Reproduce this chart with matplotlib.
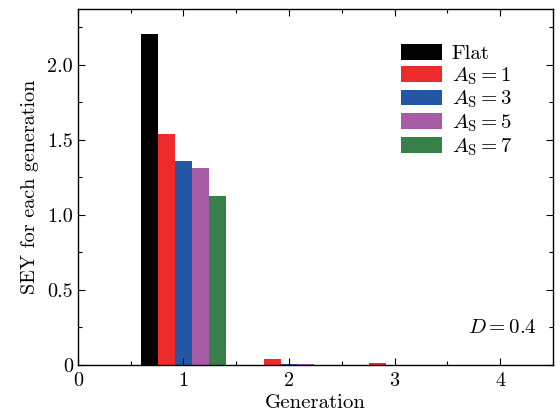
import matplotlib
matplotlib.use('Agg')
import matplotlib.pyplot as plt
import numpy as np
from matplotlib.ticker import MultipleLocator, FuncFormatter

plt.rcParams['font.family'] = 'serif'
plt.rcParams['font.serif'] = ['cmr10']
plt.rcParams['mathtext.fontset'] = 'cm'
plt.rcParams['axes.unicode_minus'] = False
plt.rcParams['axes.formatter.use_mathtext'] = True

# data
generations = [1, 2, 3, 4]
flat = [2.205, 0.0, 0.0, 0.0]
as1 = [1.54, 0.04, 0.015, 0.002]
as3 = [1.357, 0.008, 0.002, 0.0]
as5 = [1.315, 0.006, 0.001, 0.0]
as7 = [1.125, 0.002, 0.001, 0.0]
series = [flat, as1, as3, as5, as7]
labels = ['Flat', r'$A_{\rm S}=1$', r'$A_{\rm S}=3$', r'$A_{\rm S}=5$', r'$A_{\rm S}=7$']
colors = ['#000000', '#ee2b2b', '#2356a5', '#a55ca5', '#37804a']

fig = plt.figure(figsize=(5.6, 4.16), dpi=100)
ax = fig.add_axes([0.139, 0.1226, 0.8485, 0.855])

w = 0.16
x = np.array(generations, dtype=float)
for i, (vals, lab, col) in enumerate(zip(series, labels, colors)):
    ax.bar(x + (i - 2) * w, vals, width=w, color=col, label=lab, linewidth=0)

ax.set_xlim(0, 4.5)
ax.set_ylim(0, 2.37)
ax.xaxis.set_major_locator(MultipleLocator(1))
ax.xaxis.set_minor_locator(MultipleLocator(0.5))
ax.yaxis.set_major_locator(MultipleLocator(0.5))
ax.yaxis.set_minor_locator(MultipleLocator(0.25))
ax.xaxis.set_major_formatter(FuncFormatter(lambda v, p: '%d' % v))
ax.yaxis.set_major_formatter(FuncFormatter(lambda v, p: '0' if v == 0 else '%.1f' % v))
ax.tick_params(which='both', direction='in', top=True, right=True, labelsize=14.5)
ax.tick_params(axis='x', which='major', pad=5)
ax.tick_params(which='major', length=5, width=0.8)
ax.tick_params(which='minor', length=3, width=0.8)
for s in ax.spines.values():
    s.set_linewidth(1.0)

ax.set_xlabel('Generation', fontsize=15, labelpad=3)
ax.set_ylabel('SEY for each generation', fontsize=14.5, labelpad=6)

ax.text(0.966, 0.104, r'$D=0.4$', transform=ax.transAxes, ha='right', va='center', fontsize=15)

ax.legend(loc='upper left', bbox_to_anchor=(0.666, 0.92), frameon=False, fontsize=15,
          handlelength=2.0, handleheight=0.77, labelspacing=0.1, handletextpad=0.45,
          borderaxespad=0.0, borderpad=0.3)

plt.savefig('out.png', dpi=100)
